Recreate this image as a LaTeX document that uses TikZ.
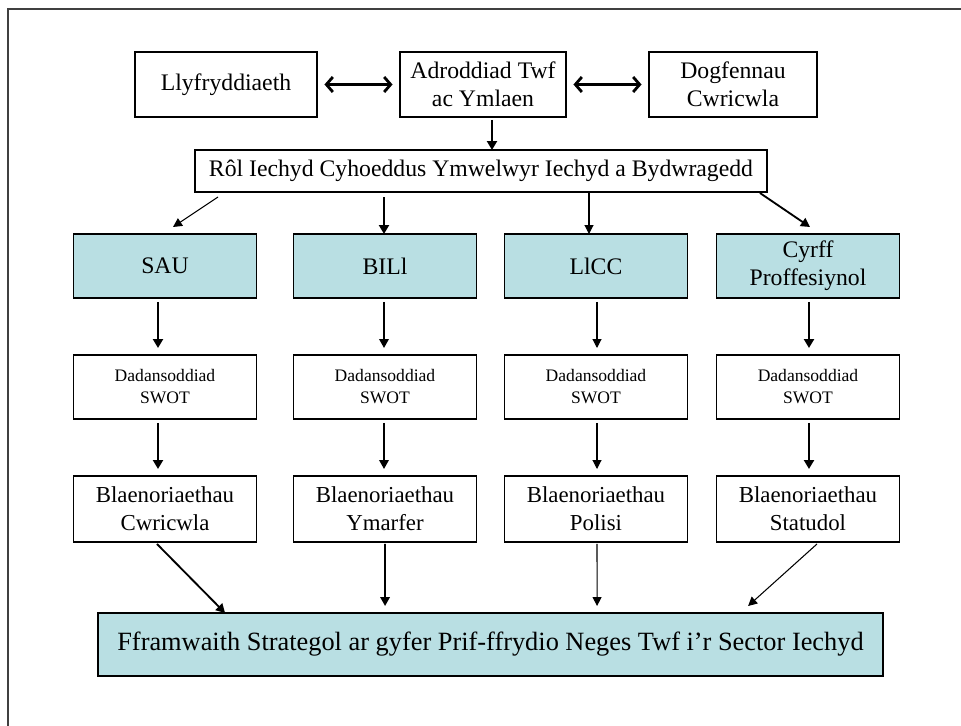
\documentclass[tikz,border=0pt]{standalone}
\usepackage{fontspec}
\setmainfont{Liberation Serif}
\definecolor{bodyteal}{HTML}{B9DFE3}
\definecolor{framegray}{HTML}{404040}
\usetikzlibrary{arrows.meta,calc}
\tikzset{
    plainbox/.style={
        draw=black,
        fill=white,
        line width=0.9pt,
        inner sep=0pt,
        outer sep=0pt,
        align=center,
        font=\fontsize{13.5}{16}\selectfont
    },
    sourcebox/.style={
        plainbox,
        minimum height=1.3cm
    },
    bodybox/.style={
        plainbox,
        fill=bodyteal,
        minimum width=3.66cm,
        minimum height=1.28cm
    },
    swotbox/.style={
        plainbox,
        minimum width=3.66cm,
        minimum height=1.28cm,
        font=\fontsize{10}{12.5}\selectfont
    },
    prioritybox/.style={
        plainbox,
        minimum width=3.66cm,
        minimum height=1.32cm,
        font=\fontsize{13}{16}\selectfont
    },
    thinarrow/.style={
        -{Triangle[length=1.8mm,width=1.8mm]},
        line width=0.6pt
    },
    midarrow/.style={
        -{Triangle[length=1.8mm,width=1.9mm]},
        line width=1.05pt
    },
    thickarrow/.style={
        -{Triangle[length=1.8mm,width=2mm]},
        line width=1.5pt
    },
    linkarrow/.style={
        {Straight Barb[length=1.3mm,width=3mm]}-{Straight Barb[length=1.3mm,width=3mm]},
        line width=1.6pt,
        shorten <=1.5mm,
        shorten >=1.5mm
    }
}

\begin{document}
\begin{tikzpicture}[x=0.02cm,y=-0.02cm]
        \useasboundingbox (0,0) rectangle (961,726);
        \draw[framegray,line width=0.9pt] (961,9) -- (8,9) -- (8,726);

        \node[sourcebox,minimum width=3.64cm] (llyfryddiaeth) at (226,84.5) {Llyfryddiaeth};
        \node[sourcebox,minimum width=3.32cm] (adroddiad) at (483,84.5) {Adroddiad Twf\\ac Ymlaen};
        \node[sourcebox,minimum width=3.36cm] (dogfennau) at (733,84.5) {Dogfennau\\Cwricwla};
        \node[plainbox,line width=1.6pt,minimum width=11.44cm,minimum height=0.84cm]
            (rolNode) at (481,171) {Rôl Iechyd Cyhoeddus Ymwelwyr Iechyd a Bydwragedd};

        \node[bodybox] (sauTop) at (165,266) {SAU};
        \node[bodybox] (billTop) at (385,266) {BILl};
        \node[bodybox] (llccTop) at (596,266) {LlCC};
        \node[bodybox] (cyrffTop) at (808,266) {Cyrff\\Proffesiynol};

        \node[swotbox] (sauSwot) at (165,387) {Dadansoddiad\\SWOT};
        \node[swotbox] (billSwot) at (385,387) {Dadansoddiad\\SWOT};
        \node[swotbox] (llccSwot) at (596,387) {Dadansoddiad\\SWOT};
        \node[swotbox] (cyrffSwot) at (808,387) {Dadansoddiad\\SWOT};

        \node[prioritybox] (sauPriority) at (165,509) {Blaenoriaethau\\Cwricwla};
        \node[prioritybox] (billPriority) at (385,509) {Blaenoriaethau\\Ymarfer};
        \node[prioritybox] (llccPriority) at (596,509) {Blaenoriaethau\\Polisi};
        \node[prioritybox] (cyrffPriority) at (808,509) {Blaenoriaethau\\Statudol};

        \node[bodybox,minimum width=15.7cm,minimum height=1.26cm,font=\fontsize{15}{18}\selectfont]
            (finalNode) at (490.5,644.5) {Fframwaith Strategol ar gyfer Prif-ffrydio Neges Twf i’r Sector Iechyd};

        \draw[linkarrow] (llyfryddiaeth.east) -- (adroddiad.west);
        \draw[linkarrow] (adroddiad.east) -- (dogfennau.west);
        \draw[thickarrow] ($(adroddiad.south)+(9,3)$) -- ($(rolNode.north)+(11,0)$);

        \draw[thinarrow] ($(rolNode.south west)+(23,5)$) -- ($(sauTop.north)+(8,-7)$);
        \draw[thickarrow] ($(billTop.north)+(-1,-37)$) -- ($(billTop.north)+(-1,0)$);
        \draw[thinarrow] ($(llccTop.north)+(-7,-41)$) -- ($(llccTop.north)+(-7,0)$);
        \draw[midarrow] ($(rolNode.south east)+(-7,1)$) -- ($(cyrffTop.north)+(2,-7)$);

        \draw[thickarrow] ($(sauTop.south)+(-7,4)$) -- ($(sauSwot.north)+(-7,-7)$);
        \draw[midarrow] ($(billTop.south)+(-1,4)$) -- ($(billSwot.north)+(-1,-7)$);
        \draw[thinarrow] ($(llccTop.south)+(1,4)$) -- ($(llccSwot.north)+(1,-7)$);
        \draw[thickarrow] ($(cyrffTop.south)+(1,4)$) -- ($(cyrffSwot.north)+(1,-7)$);

        \draw[thickarrow] ($(sauSwot.south)+(-7,4)$) -- ($(sauPriority.north)+(-7,-7)$);
        \draw[midarrow] ($(billSwot.south)+(-1,4)$) -- ($(billPriority.north)+(-1,-7)$);
        \draw[thinarrow] ($(llccSwot.south)+(1,4)$) -- ($(llccPriority.north)+(1,-7)$);
        \draw[thickarrow] ($(cyrffSwot.south)+(1,4)$) -- ($(cyrffPriority.north)+(1,-7)$);

        \draw[midarrow] ($(sauPriority.south)+(-8,2)$) -- ($(finalNode.north west)+(127,0)$);
        \draw[midarrow] ($(billPriority.south)+(0,2)$) -- ($(finalNode.north west)+(287,-7)$);
        \draw[thinarrow] ($(llccPriority.south)+(1,2)$) -- ($(finalNode.north west)+(499,-7)$);
        \draw[thinarrow] ($(cyrffPriority.south)+(9,2)$) -- ($(finalNode.north west)+(650,-7)$);
    \end{tikzpicture}
\end{document}
